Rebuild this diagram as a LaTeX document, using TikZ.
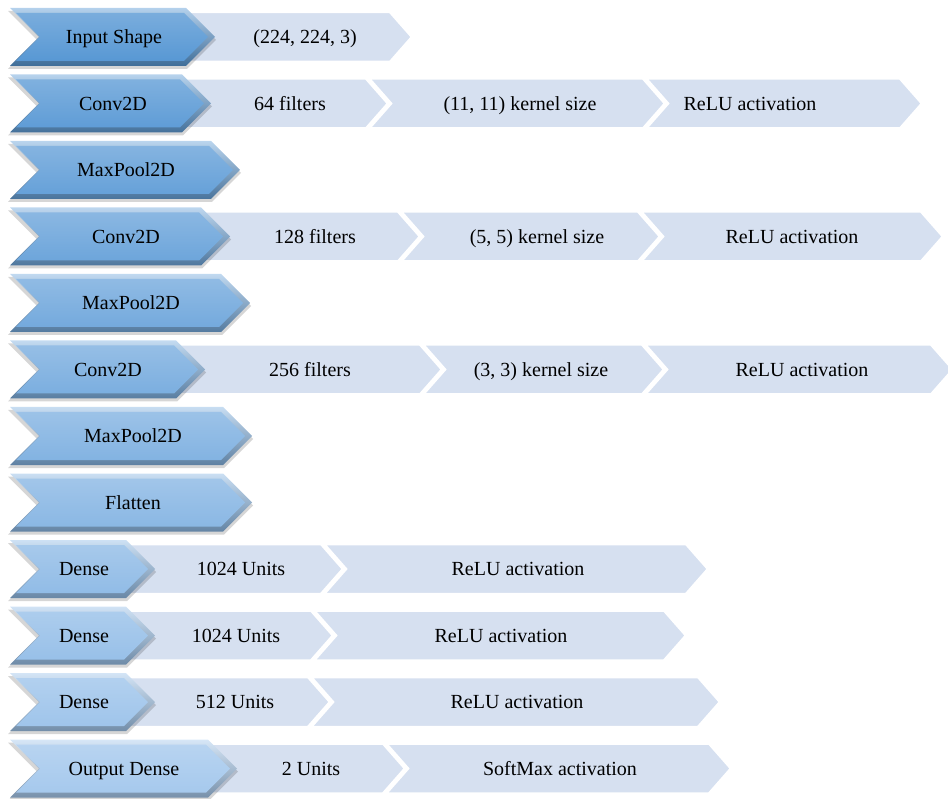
\documentclass[tikz,border=0pt]{standalone}
\usepackage{fontspec}
\setmainfont{Liberation Serif}
\definecolor{lightfill}{RGB}{214,224,240}
\definecolor{bluedark}{RGB}{88,152,212}
\definecolor{bluelight}{RGB}{166,201,237}
\newcommand\chevpath[5]{(#1,#3-#4) -- (#2-#5,#3-#4) -- (#2,#3) -- (#2-#5,#3+#4) -- (#1,#3+#4) -- (#1+#5,#3) -- cycle}
\newcommand\lchev[3]{\draw[lightchev] \chevpath{#1}{#2}{#3}{25}{22};}
\newcommand\bchev[3]{%
  \colorlet{bb}{bluedark!#3!bluelight}%
  \fill[black,opacity=0.16] \chevpath{8}{#2+1}{#1+3}{29}{29};
  \shade[top color=bb!45!white, bottom color=bb!72!black] \chevpath{10}{#2}{#1}{29}{29};
  \shade[top color=bb!80!white, bottom color=bb] \chevpath{16}{#2-7}{#1}{24}{24};
}
\tikzset{
  lightchev/.style={fill=lightfill, draw=white, line width=2.5pt, line join=miter},
  lbl/.style={inner sep=0pt, text height=13.2pt, text depth=0pt, font=\fontsize{20}{24}\selectfont, text=black},
}
\begin{document}
\begin{tikzpicture}[x=1pt,y=-1pt]
\useasboundingbox (0,0) rectangle (948,799);
\clip (0,0) rectangle (948,799);
% light chevrons
\lchev{185}{412}{37}
\lchev{181}{388}{103.5}\lchev{369}{665}{103.5}\lchev{646}{922}{103.5}
\lchev{200}{420}{236.5}\lchev{401}{660}{236.5}\lchev{641}{943}{236.5}
\lchev{175}{442}{369.5}\lchev{423}{664}{369.5}\lchev{645}{953}{369.5}
\lchev{125}{343}{569}\lchev{324}{708}{569}
\lchev{125}{333}{635.5}\lchev{314}{686}{635.5}
\lchev{125}{330}{702}\lchev{311}{720}{702}
\lchev{207}{405}{768.5}\lchev{386}{731}{768.5}
% blue chevrons
\bchev{37}{215}{100}
\bchev{103.5}{211}{91}
\bchev{170}{240}{82}
\bchev{236.5}{230}{73}
\bchev{303}{250}{64}
\bchev{369.5}{205}{55}
\bchev{436}{252}{45}
\bchev{502.5}{252}{36}
\bchev{569}{155}{27}
\bchev{635.5}{155}{18}
\bchev{702}{155}{9}
\bchev{768.5}{237}{0}
% blue labels
\node[lbl] (b1) at (114,37) {Input Shape};
\node[lbl] (b2) at (113,103.5) {Conv2D};
\node[lbl] (b3) at (126,170) {MaxPool2D};
\node[lbl] (b4) at (126,236.5) {Conv2D};
\node[lbl] (b5) at (131,303) {MaxPool2D};
\node[lbl] (b6) at (108,369.5) {Conv2D};
\node[lbl] (b7) at (133,436) {MaxPool2D};
\node[lbl] (b8) at (133,502.5) {Flatten};
\node[lbl] (b9) at (84,569) {Dense};
\node[lbl] (b10) at (84,635.5) {Dense};
\node[lbl] (b11) at (84,702) {Dense};
\node[lbl] (b12) at (124,768.5) {Output Dense};
% light labels
\node[lbl] (l1a) at (305,37) {(224, 224, 3)};
\node[lbl] (l2a) at (290,103.5) {64 filters};
\node[lbl] (l2b) at (520,103.5) {(11, 11) kernel size};
\node[lbl] (l2c) at (750,103.5) {ReLU activation};
\node[lbl] (l4a) at (315,236.5) {128 filters};
\node[lbl] (l4b) at (537,236.5) {(5, 5) kernel size};
\node[lbl] (l4c) at (792,236.5) {ReLU activation};
\node[lbl] (l6a) at (310,369.5) {256 filters};
\node[lbl] (l6b) at (541,369.5) {(3, 3) kernel size};
\node[lbl] (l6c) at (802,369.5) {ReLU activation};
\node[lbl] (l9a) at (241,569) {1024 Units};
\node[lbl] (l9b) at (518,569) {ReLU activation};
\node[lbl] (l10a) at (236,635.5) {1024 Units};
\node[lbl] (l10b) at (501,635.5) {ReLU activation};
\node[lbl] (l11a) at (235,702) {512 Units};
\node[lbl] (l11b) at (517,702) {ReLU activation};
\node[lbl] (l12a) at (311,768.5) {2 Units};
\node[lbl] (l12b) at (560,768.5) {SoftMax activation};
\end{tikzpicture}
\end{document}
